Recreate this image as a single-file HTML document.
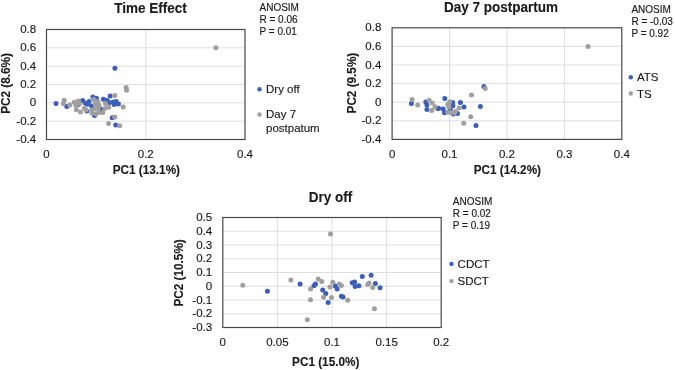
<!DOCTYPE html>
<html><head><meta charset="utf-8"><style>
html,body{margin:0;padding:0;background:#fff;}
svg{display:block;will-change:transform;}
text{font-family:"Liberation Sans", sans-serif;fill:#1a1a1a;stroke:#1a1a1a;stroke-width:0.15px;}
text[font-weight=bold]{stroke-width:0.12px;}
</style></head><body>
<svg width="675" height="370" viewBox="0 0 675 370">
<rect width="675" height="370" fill="#fff"/>
<line x1="145.75" y1="29.5" x2="145.75" y2="139.5" stroke="#dedede" stroke-width="1"/>
<line x1="46.5" y1="121.17" x2="245" y2="121.17" stroke="#dedede" stroke-width="1"/>
<line x1="46.5" y1="102.83" x2="245" y2="102.83" stroke="#dedede" stroke-width="1"/>
<line x1="46.5" y1="84.5" x2="245" y2="84.5" stroke="#dedede" stroke-width="1"/>
<line x1="46.5" y1="66.17" x2="245" y2="66.17" stroke="#dedede" stroke-width="1"/>
<line x1="46.5" y1="47.83" x2="245" y2="47.83" stroke="#dedede" stroke-width="1"/>
<circle cx="56" cy="103.6" r="2.5" fill="#3a5eba"/>
<circle cx="66.8" cy="106.6" r="2.5" fill="#3a5eba"/>
<circle cx="78.4" cy="104.5" r="2.5" fill="#3a5eba"/>
<circle cx="82.6" cy="100.5" r="2.5" fill="#3a5eba"/>
<circle cx="85.1" cy="103" r="2.5" fill="#3a5eba"/>
<circle cx="87.3" cy="104.3" r="2.5" fill="#3a5eba"/>
<circle cx="89" cy="101.4" r="2.5" fill="#3a5eba"/>
<circle cx="91.5" cy="106" r="2.5" fill="#3a5eba"/>
<circle cx="86.8" cy="111.1" r="2.5" fill="#3a5eba"/>
<circle cx="92.9" cy="97" r="2.5" fill="#3a5eba"/>
<circle cx="96.4" cy="98.2" r="2.5" fill="#3a5eba"/>
<circle cx="100.6" cy="108.9" r="2.5" fill="#3a5eba"/>
<circle cx="103.3" cy="99.3" r="2.5" fill="#3a5eba"/>
<circle cx="106.9" cy="100.2" r="2.5" fill="#3a5eba"/>
<circle cx="109.6" cy="102.5" r="2.5" fill="#3a5eba"/>
<circle cx="110.2" cy="95.9" r="2.5" fill="#3a5eba"/>
<circle cx="113.5" cy="101.9" r="2.5" fill="#3a5eba"/>
<circle cx="116.2" cy="101.4" r="2.5" fill="#3a5eba"/>
<circle cx="114.1" cy="104.6" r="2.5" fill="#3a5eba"/>
<circle cx="118.4" cy="104.1" r="2.5" fill="#3a5eba"/>
<circle cx="112.2" cy="117.8" r="2.5" fill="#3a5eba"/>
<circle cx="115.7" cy="124.9" r="2.5" fill="#3a5eba"/>
<circle cx="114.9" cy="68.2" r="2.5" fill="#3a5eba"/>
<circle cx="94.5" cy="115.4" r="2.5" fill="#3a5eba"/>
<circle cx="64.2" cy="100.2" r="2.5" fill="#9f9f9f"/>
<circle cx="63.5" cy="103.8" r="2.5" fill="#9f9f9f"/>
<circle cx="69.8" cy="105" r="2.5" fill="#9f9f9f"/>
<circle cx="74.2" cy="102.3" r="2.5" fill="#9f9f9f"/>
<circle cx="78.3" cy="100.9" r="2.5" fill="#9f9f9f"/>
<circle cx="75.9" cy="105.6" r="2.5" fill="#9f9f9f"/>
<circle cx="79.6" cy="103.6" r="2.5" fill="#9f9f9f"/>
<circle cx="76.4" cy="109.8" r="2.5" fill="#9f9f9f"/>
<circle cx="80.4" cy="112" r="2.5" fill="#9f9f9f"/>
<circle cx="84.4" cy="108.2" r="2.5" fill="#9f9f9f"/>
<circle cx="86" cy="110" r="2.5" fill="#9f9f9f"/>
<circle cx="93.8" cy="99.6" r="2.5" fill="#9f9f9f"/>
<circle cx="97.7" cy="101.4" r="2.5" fill="#9f9f9f"/>
<circle cx="95.1" cy="104" r="2.5" fill="#9f9f9f"/>
<circle cx="99" cy="105.3" r="2.5" fill="#9f9f9f"/>
<circle cx="91.9" cy="109.9" r="2.5" fill="#9f9f9f"/>
<circle cx="91.9" cy="113.1" r="2.5" fill="#9f9f9f"/>
<circle cx="95.8" cy="113.8" r="2.5" fill="#9f9f9f"/>
<circle cx="99" cy="112.5" r="2.5" fill="#9f9f9f"/>
<circle cx="102.9" cy="112.5" r="2.5" fill="#9f9f9f"/>
<circle cx="95.1" cy="108.6" r="2.5" fill="#9f9f9f"/>
<circle cx="98.4" cy="108.6" r="2.5" fill="#9f9f9f"/>
<circle cx="104.9" cy="108.6" r="2.5" fill="#9f9f9f"/>
<circle cx="108.8" cy="107.3" r="2.5" fill="#9f9f9f"/>
<circle cx="105.5" cy="103.4" r="2.5" fill="#9f9f9f"/>
<circle cx="114.8" cy="95.6" r="2.5" fill="#9f9f9f"/>
<circle cx="126.1" cy="87.6" r="2.5" fill="#9f9f9f"/>
<circle cx="126.6" cy="90.2" r="2.5" fill="#9f9f9f"/>
<circle cx="123.2" cy="107.1" r="2.5" fill="#9f9f9f"/>
<circle cx="114.8" cy="116.9" r="2.5" fill="#9f9f9f"/>
<circle cx="108.6" cy="123.6" r="2.5" fill="#9f9f9f"/>
<circle cx="119.6" cy="125.7" r="2.5" fill="#9f9f9f"/>
<circle cx="215.9" cy="47.7" r="2.5" fill="#9f9f9f"/>
<rect x="46.5" y="29.5" width="198.5" height="110" fill="none" stroke="#474747" stroke-width="1.2"/>
<text x="36.2" y="143.1" text-anchor="end" font-size="11.5">-0.4</text>
<text x="36.2" y="124.77" text-anchor="end" font-size="11.5">-0.2</text>
<text x="36.2" y="106.43" text-anchor="end" font-size="11.5">0</text>
<text x="36.2" y="88.1" text-anchor="end" font-size="11.5">0.2</text>
<text x="36.2" y="69.77" text-anchor="end" font-size="11.5">0.4</text>
<text x="36.2" y="51.43" text-anchor="end" font-size="11.5">0.6</text>
<text x="36.2" y="33.1" text-anchor="end" font-size="11.5">0.8</text>
<text x="46.5" y="157.6" text-anchor="middle" font-size="11.5">0</text>
<text x="145.75" y="157.6" text-anchor="middle" font-size="11.5">0.2</text>
<text x="245" y="157.6" text-anchor="middle" font-size="11.5">0.4</text>
<text x="146.4" y="173.8" text-anchor="middle" font-size="12" textLength="67.27" lengthAdjust="spacingAndGlyphs" font-weight="bold">PC1 (13.1%)</text>
<text transform="translate(10.4,83.5) rotate(-90)" text-anchor="middle" font-size="12" textLength="60.73" lengthAdjust="spacingAndGlyphs" font-weight="bold">PC2 (8.6%)</text>
<text x="150.5" y="12.6" text-anchor="middle" font-size="14" textLength="72.53" lengthAdjust="spacingAndGlyphs" font-weight="bold" fill="#000">Time Effect</text>
<text x="259.5" y="10.8" font-size="10">ANOSIM</text>
<text x="259.5" y="22.8" font-size="10">R = 0.06</text>
<text x="259.5" y="34.8" font-size="10">P = 0.01</text>
<circle cx="259.5" cy="89.2" r="2.2" fill="#3a5eba"/>
<text x="266" y="92.8" font-size="11.5">Dry off</text>
<circle cx="259.5" cy="114.5" r="2.2" fill="#9f9f9f"/>
<text x="266" y="118.2" font-size="11.5">Day 7</text>
<text x="266" y="131.5" font-size="11.5">postpatum</text>
<line x1="449.52" y1="27.8" x2="449.52" y2="139.4" stroke="#dedede" stroke-width="1"/>
<line x1="506.95" y1="27.8" x2="506.95" y2="139.4" stroke="#dedede" stroke-width="1"/>
<line x1="564.38" y1="27.8" x2="564.38" y2="139.4" stroke="#dedede" stroke-width="1"/>
<line x1="392.1" y1="120.8" x2="621.8" y2="120.8" stroke="#dedede" stroke-width="1"/>
<line x1="392.1" y1="102.2" x2="621.8" y2="102.2" stroke="#dedede" stroke-width="1"/>
<line x1="392.1" y1="83.6" x2="621.8" y2="83.6" stroke="#dedede" stroke-width="1"/>
<line x1="392.1" y1="65" x2="621.8" y2="65" stroke="#dedede" stroke-width="1"/>
<line x1="392.1" y1="46.4" x2="621.8" y2="46.4" stroke="#dedede" stroke-width="1"/>
<circle cx="411.4" cy="103.5" r="2.5" fill="#3a5eba"/>
<circle cx="425.8" cy="101.9" r="2.5" fill="#3a5eba"/>
<circle cx="426.9" cy="105.1" r="2.5" fill="#3a5eba"/>
<circle cx="426.9" cy="109.5" r="2.5" fill="#3a5eba"/>
<circle cx="437.7" cy="108.4" r="2.5" fill="#3a5eba"/>
<circle cx="444.8" cy="98.5" r="2.5" fill="#3a5eba"/>
<circle cx="452.6" cy="102.4" r="2.5" fill="#3a5eba"/>
<circle cx="452.9" cy="105.7" r="2.5" fill="#3a5eba"/>
<circle cx="460.4" cy="102.4" r="2.5" fill="#3a5eba"/>
<circle cx="464" cy="107" r="2.5" fill="#3a5eba"/>
<circle cx="438.6" cy="108.3" r="2.5" fill="#3a5eba"/>
<circle cx="443.2" cy="108.9" r="2.5" fill="#3a5eba"/>
<circle cx="444.5" cy="112.8" r="2.5" fill="#3a5eba"/>
<circle cx="450.3" cy="109.6" r="2.5" fill="#3a5eba"/>
<circle cx="453.3" cy="114.1" r="2.5" fill="#3a5eba"/>
<circle cx="457.5" cy="113.5" r="2.5" fill="#3a5eba"/>
<circle cx="483.9" cy="86.5" r="2.5" fill="#3a5eba"/>
<circle cx="480.4" cy="106.5" r="2.5" fill="#3a5eba"/>
<circle cx="476" cy="125.4" r="2.5" fill="#3a5eba"/>
<circle cx="412.1" cy="99.5" r="2.5" fill="#9f9f9f"/>
<circle cx="417.7" cy="105.1" r="2.5" fill="#9f9f9f"/>
<circle cx="429.1" cy="100.3" r="2.5" fill="#9f9f9f"/>
<circle cx="432.3" cy="103" r="2.5" fill="#9f9f9f"/>
<circle cx="431.8" cy="110.5" r="2.5" fill="#9f9f9f"/>
<circle cx="435" cy="106.8" r="2.5" fill="#9f9f9f"/>
<circle cx="449.7" cy="101.8" r="2.5" fill="#9f9f9f"/>
<circle cx="447.7" cy="104.4" r="2.5" fill="#9f9f9f"/>
<circle cx="449" cy="107" r="2.5" fill="#9f9f9f"/>
<circle cx="459.1" cy="108" r="2.5" fill="#9f9f9f"/>
<circle cx="447.7" cy="112.2" r="2.5" fill="#9f9f9f"/>
<circle cx="451" cy="112.5" r="2.5" fill="#9f9f9f"/>
<circle cx="454.2" cy="112.8" r="2.5" fill="#9f9f9f"/>
<circle cx="455.5" cy="111.5" r="2.5" fill="#9f9f9f"/>
<circle cx="485.2" cy="88.6" r="2.5" fill="#9f9f9f"/>
<circle cx="471.5" cy="95.1" r="2.5" fill="#9f9f9f"/>
<circle cx="470.7" cy="116.7" r="2.5" fill="#9f9f9f"/>
<circle cx="463.7" cy="123.2" r="2.5" fill="#9f9f9f"/>
<circle cx="588.1" cy="46.5" r="2.5" fill="#9f9f9f"/>
<rect x="392.1" y="27.8" width="229.7" height="111.6" fill="none" stroke="#474747" stroke-width="1.2"/>
<text x="381.3" y="143" text-anchor="end" font-size="11.5">-0.4</text>
<text x="381.3" y="124.4" text-anchor="end" font-size="11.5">-0.2</text>
<text x="381.3" y="105.8" text-anchor="end" font-size="11.5">0</text>
<text x="381.3" y="87.2" text-anchor="end" font-size="11.5">0.2</text>
<text x="381.3" y="68.6" text-anchor="end" font-size="11.5">0.4</text>
<text x="381.3" y="50" text-anchor="end" font-size="11.5">0.6</text>
<text x="381.3" y="31.4" text-anchor="end" font-size="11.5">0.8</text>
<text x="392.1" y="157.5" text-anchor="middle" font-size="11.5">0</text>
<text x="449.52" y="157.5" text-anchor="middle" font-size="11.5">0.1</text>
<text x="506.95" y="157.5" text-anchor="middle" font-size="11.5">0.2</text>
<text x="564.38" y="157.5" text-anchor="middle" font-size="11.5">0.3</text>
<text x="621.8" y="157.5" text-anchor="middle" font-size="11.5">0.4</text>
<text x="507.4" y="174.2" text-anchor="middle" font-size="12" textLength="67.27" lengthAdjust="spacingAndGlyphs" font-weight="bold">PC1 (14.2%)</text>
<text transform="translate(355.8,83.1) rotate(-90)" text-anchor="middle" font-size="12" textLength="60.73" lengthAdjust="spacingAndGlyphs" font-weight="bold">PC2 (9.5%)</text>
<text x="501" y="11.9" text-anchor="middle" font-size="14" textLength="114.03" lengthAdjust="spacingAndGlyphs" font-weight="bold" fill="#000">Day 7 postpartum</text>
<text x="631.4" y="12.8" font-size="10">ANOSIM</text>
<text x="631.4" y="25" font-size="10">R = -0.03</text>
<text x="631.4" y="37.2" font-size="10">P = 0.92</text>
<circle cx="630.8" cy="77.3" r="2.2" fill="#3a5eba"/>
<text x="636.9" y="80.9" font-size="11.5">ATS</text>
<circle cx="630.8" cy="93.5" r="2.2" fill="#9f9f9f"/>
<text x="636.9" y="97.6" font-size="11.5">TS</text>
<line x1="277.4" y1="217.5" x2="277.4" y2="327.5" stroke="#dedede" stroke-width="1"/>
<line x1="332" y1="217.5" x2="332" y2="327.5" stroke="#dedede" stroke-width="1"/>
<line x1="386.6" y1="217.5" x2="386.6" y2="327.5" stroke="#dedede" stroke-width="1"/>
<line x1="222.8" y1="313.75" x2="441.2" y2="313.75" stroke="#dedede" stroke-width="1"/>
<line x1="222.8" y1="300" x2="441.2" y2="300" stroke="#dedede" stroke-width="1"/>
<line x1="222.8" y1="286.25" x2="441.2" y2="286.25" stroke="#dedede" stroke-width="1"/>
<line x1="222.8" y1="272.5" x2="441.2" y2="272.5" stroke="#dedede" stroke-width="1"/>
<line x1="222.8" y1="258.75" x2="441.2" y2="258.75" stroke="#dedede" stroke-width="1"/>
<line x1="222.8" y1="245" x2="441.2" y2="245" stroke="#dedede" stroke-width="1"/>
<line x1="222.8" y1="231.25" x2="441.2" y2="231.25" stroke="#dedede" stroke-width="1"/>
<circle cx="267.4" cy="291.2" r="2.5" fill="#3a5eba"/>
<circle cx="300.1" cy="284" r="2.5" fill="#3a5eba"/>
<circle cx="313.9" cy="285.7" r="2.5" fill="#3a5eba"/>
<circle cx="315.5" cy="284.1" r="2.5" fill="#3a5eba"/>
<circle cx="322.7" cy="290" r="2.5" fill="#3a5eba"/>
<circle cx="325.8" cy="293.5" r="2.5" fill="#3a5eba"/>
<circle cx="328.1" cy="302.6" r="2.5" fill="#3a5eba"/>
<circle cx="335.3" cy="285.9" r="2.5" fill="#3a5eba"/>
<circle cx="337.2" cy="289.1" r="2.5" fill="#3a5eba"/>
<circle cx="341.4" cy="296.2" r="2.5" fill="#3a5eba"/>
<circle cx="343" cy="297" r="2.5" fill="#3a5eba"/>
<circle cx="352.2" cy="282.7" r="2.5" fill="#3a5eba"/>
<circle cx="354.6" cy="282" r="2.5" fill="#3a5eba"/>
<circle cx="355.1" cy="286.4" r="2.5" fill="#3a5eba"/>
<circle cx="358.9" cy="285.8" r="2.5" fill="#3a5eba"/>
<circle cx="362.3" cy="276.4" r="2.5" fill="#3a5eba"/>
<circle cx="371.1" cy="275.3" r="2.5" fill="#3a5eba"/>
<circle cx="375.4" cy="283.6" r="2.5" fill="#3a5eba"/>
<circle cx="380.1" cy="287.8" r="2.5" fill="#3a5eba"/>
<circle cx="242.8" cy="285.3" r="2.5" fill="#9f9f9f"/>
<circle cx="290.9" cy="280.1" r="2.5" fill="#9f9f9f"/>
<circle cx="318.2" cy="278.9" r="2.5" fill="#9f9f9f"/>
<circle cx="321.8" cy="281.4" r="2.5" fill="#9f9f9f"/>
<circle cx="310.5" cy="289.1" r="2.5" fill="#9f9f9f"/>
<circle cx="310.5" cy="299.8" r="2.5" fill="#9f9f9f"/>
<circle cx="323.6" cy="297.2" r="2.5" fill="#9f9f9f"/>
<circle cx="329.9" cy="287" r="2.5" fill="#9f9f9f"/>
<circle cx="332.8" cy="282.3" r="2.5" fill="#9f9f9f"/>
<circle cx="331.5" cy="297.6" r="2.5" fill="#9f9f9f"/>
<circle cx="339.3" cy="284.1" r="2.5" fill="#9f9f9f"/>
<circle cx="341.4" cy="285.4" r="2.5" fill="#9f9f9f"/>
<circle cx="347.7" cy="300.2" r="2.5" fill="#9f9f9f"/>
<circle cx="367.7" cy="284.5" r="2.5" fill="#9f9f9f"/>
<circle cx="369.1" cy="283.1" r="2.5" fill="#9f9f9f"/>
<circle cx="372.7" cy="287.4" r="2.5" fill="#9f9f9f"/>
<circle cx="330.5" cy="234.1" r="2.5" fill="#9f9f9f"/>
<circle cx="307.3" cy="319.7" r="2.5" fill="#9f9f9f"/>
<circle cx="374.4" cy="308.7" r="2.5" fill="#9f9f9f"/>
<rect x="222.8" y="217.5" width="218.4" height="110" fill="none" stroke="#474747" stroke-width="1.2"/>
<text x="212.2" y="331.1" text-anchor="end" font-size="11.5">-0.3</text>
<text x="212.2" y="317.35" text-anchor="end" font-size="11.5">-0.2</text>
<text x="212.2" y="303.6" text-anchor="end" font-size="11.5">-0.1</text>
<text x="212.2" y="289.85" text-anchor="end" font-size="11.5">0</text>
<text x="212.2" y="276.1" text-anchor="end" font-size="11.5">0.1</text>
<text x="212.2" y="262.35" text-anchor="end" font-size="11.5">0.2</text>
<text x="212.2" y="248.6" text-anchor="end" font-size="11.5">0.3</text>
<text x="212.2" y="234.85" text-anchor="end" font-size="11.5">0.4</text>
<text x="212.2" y="221.1" text-anchor="end" font-size="11.5">0.5</text>
<text x="222.8" y="346" text-anchor="middle" font-size="11.5">0</text>
<text x="277.4" y="346" text-anchor="middle" font-size="11.5">0.05</text>
<text x="332" y="346" text-anchor="middle" font-size="11.5">0.1</text>
<text x="386.6" y="346" text-anchor="middle" font-size="11.5">0.15</text>
<text x="441.2" y="346" text-anchor="middle" font-size="11.5">0.2</text>
<text x="325.7" y="365.9" text-anchor="middle" font-size="12" textLength="67.27" lengthAdjust="spacingAndGlyphs" font-weight="bold">PC1 (15.0%)</text>
<text transform="translate(183.3,272.9) rotate(-90)" text-anchor="middle" font-size="12" textLength="67.27" lengthAdjust="spacingAndGlyphs" font-weight="bold">PC2 (10.5%)</text>
<text x="330.4" y="201.8" text-anchor="middle" font-size="14" textLength="43.5" lengthAdjust="spacingAndGlyphs" font-weight="bold" fill="#000">Dry off</text>
<text x="452.8" y="204.7" font-size="10">ANOSIM</text>
<text x="452.8" y="216.7" font-size="10">R = 0.02</text>
<text x="452.8" y="228.6" font-size="10">P = 0.19</text>
<circle cx="451.5" cy="263.9" r="2.2" fill="#3a5eba"/>
<text x="457.6" y="268" font-size="11.5">CDCT</text>
<circle cx="451.5" cy="281.1" r="2.2" fill="#9f9f9f"/>
<text x="457.6" y="284.7" font-size="11.5">SDCT</text>
</svg>
</body></html>
